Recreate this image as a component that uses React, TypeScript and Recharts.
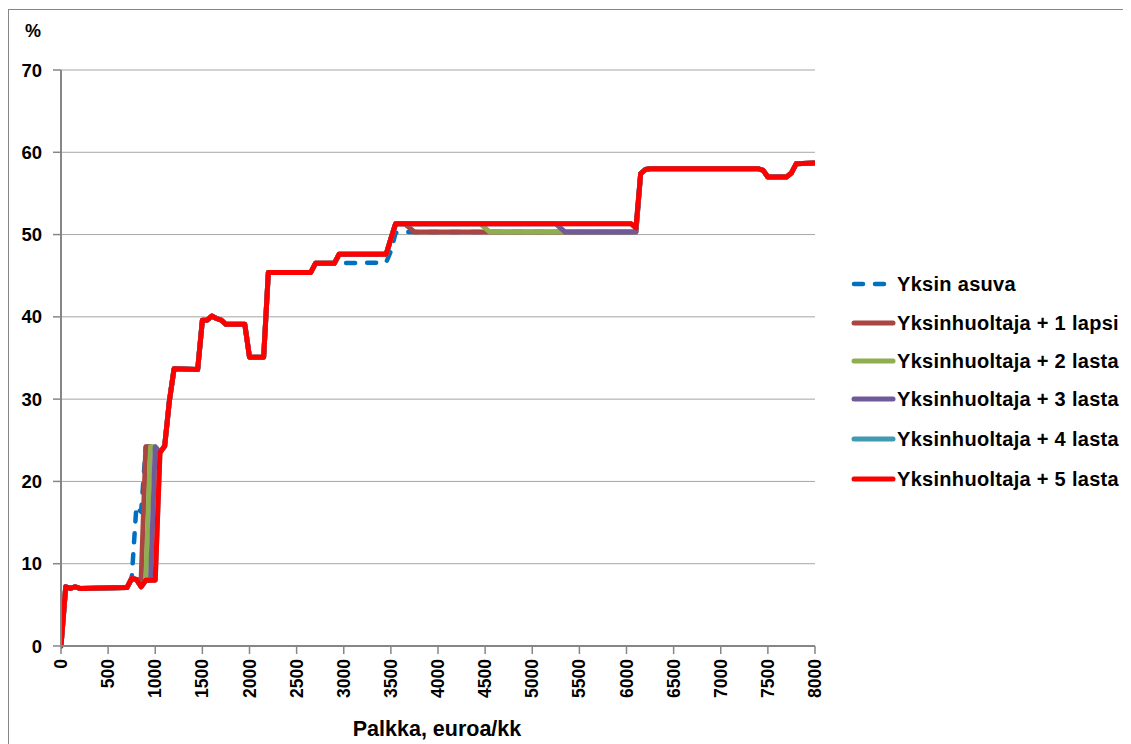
import { LineChart, Line, XAxis, YAxis, CartesianGrid } from 'recharts'

// x = palkka (euroa/kk), y = %
const yksinAsuva = [
  [0, 0], [50, 7.2], [100, 7.0], [150, 7.2], [200, 7.0], [700, 7.1], [750, 8.2],
  [800, 17.0], [850, 16.3], [900, 24.2], [950, 24.2], [1000, 24.0], [1050, 23.5],
  [1100, 24.3], [1150, 29.8], [1200, 33.7], [1450, 33.6], [1500, 39.6], [1550, 39.6],
  [1600, 40.1], [1650, 39.8], [1700, 39.6], [1750, 39.1], [1950, 39.1], [2000, 35.1],
  [2150, 35.1], [2200, 45.4], [2650, 45.4], [2700, 46.5], [3450, 46.6], [3500, 48.0],
  [3550, 50.2], [3600, 50.3], [6100, 50.3], [6150, 57.4], [6200, 57.9], [6250, 58.0],
  [7400, 58.0], [7450, 57.8], [7500, 57.0], [7700, 57.0], [7750, 57.5], [7800, 58.6],
  [8000, 58.7],
]

const lapsi1 = [
  [0, 0], [50, 7.2], [100, 7.0], [150, 7.2], [200, 7.0], [700, 7.1], [750, 8.2],
  [800, 8.1], [850, 8.0], [900, 24.2], [950, 24.2], [1000, 24.0], [1050, 23.5],
  [1100, 24.3], [1150, 29.8], [1200, 33.7], [1450, 33.6], [1500, 39.6], [1550, 39.6],
  [1600, 40.1], [1650, 39.8], [1700, 39.6], [1750, 39.1], [1950, 39.1], [2000, 35.1],
  [2150, 35.1], [2200, 45.4], [2650, 45.4], [2700, 46.5], [2900, 46.5], [2950, 47.6],
  [3450, 47.6], [3500, 49.5], [3550, 51.3], [3650, 51.3], [3750, 50.3], [6100, 50.3],
  [6150, 57.4], [6200, 57.9], [6250, 58.0], [7400, 58.0], [7450, 57.8], [7500, 57.0],
  [7700, 57.0], [7750, 57.5], [7800, 58.6], [8000, 58.7],
]

const lasta2 = [
  [0, 0], [50, 7.2], [100, 7.0], [150, 7.2], [200, 7.0], [700, 7.1], [750, 8.2],
  [800, 8.1], [850, 7.2], [900, 8.0], [950, 24.2], [1000, 24.2], [1050, 23.5],
  [1100, 24.3], [1150, 29.8], [1200, 33.7], [1450, 33.6], [1500, 39.6], [1550, 39.6],
  [1600, 40.1], [1650, 39.8], [1700, 39.6], [1750, 39.1], [1950, 39.1], [2000, 35.1],
  [2150, 35.1], [2200, 45.4], [2650, 45.4], [2700, 46.5], [2900, 46.5], [2950, 47.6],
  [3450, 47.6], [3500, 49.5], [3550, 51.3], [4450, 51.3], [4550, 50.3], [6100, 50.3],
  [6150, 57.4], [6200, 57.9], [6250, 58.0], [7400, 58.0], [7450, 57.8], [7500, 57.0],
  [7700, 57.0], [7750, 57.5], [7800, 58.6], [8000, 58.7],
]

const lasta3 = [
  [0, 0], [50, 7.2], [100, 7.0], [150, 7.2], [200, 7.0], [700, 7.1], [750, 8.2],
  [800, 8.1], [850, 7.2], [900, 8.0], [950, 8.0], [1000, 24.2], [1050, 23.5],
  [1100, 24.3], [1150, 29.8], [1200, 33.7], [1450, 33.6], [1500, 39.6], [1550, 39.6],
  [1600, 40.1], [1650, 39.8], [1700, 39.6], [1750, 39.1], [1950, 39.1], [2000, 35.1],
  [2150, 35.1], [2200, 45.4], [2650, 45.4], [2700, 46.5], [2900, 46.5], [2950, 47.6],
  [3450, 47.6], [3500, 49.5], [3550, 51.3], [5250, 51.3], [5350, 50.3], [6100, 50.3],
  [6150, 57.4], [6200, 57.9], [6250, 58.0], [7400, 58.0], [7450, 57.8], [7500, 57.0],
  [7700, 57.0], [7750, 57.5], [7800, 58.6], [8000, 58.7],
]

const lasta4 = [
  [0, 0], [50, 7.2], [100, 7.0], [150, 7.2], [200, 7.0], [700, 7.1], [750, 8.2],
  [800, 8.1], [850, 7.2], [900, 8.0], [1000, 8.0], [1050, 23.5],
  [1100, 24.3], [1150, 29.8], [1200, 33.7], [1450, 33.6], [1500, 39.6], [1550, 39.6],
  [1600, 40.1], [1650, 39.8], [1700, 39.6], [1750, 39.1], [1950, 39.1], [2000, 35.1],
  [2150, 35.1], [2200, 45.4], [2650, 45.4], [2700, 46.5], [2900, 46.5], [2950, 47.6],
  [3450, 47.6], [3500, 49.5], [3550, 51.3], [6050, 51.3], [6100, 50.8],
  [6150, 57.4], [6200, 57.9], [6250, 58.0], [7400, 58.0], [7450, 57.8], [7500, 57.0],
  [7700, 57.0], [7750, 57.5], [7800, 58.6], [8000, 58.7],
]

const lasta5 = [
  [0, 0], [50, 7.2], [100, 7.0], [150, 7.2], [200, 7.0], [700, 7.1], [750, 8.2],
  [800, 8.1], [850, 7.2], [900, 8.0], [1000, 8.0], [1050, 23.5],
  [1100, 24.3], [1150, 29.8], [1200, 33.7], [1450, 33.6], [1500, 39.6], [1550, 39.6],
  [1600, 40.1], [1650, 39.8], [1700, 39.6], [1750, 39.1], [1950, 39.1], [2000, 35.1],
  [2150, 35.1], [2200, 45.4], [2650, 45.4], [2700, 46.5], [2900, 46.5], [2950, 47.6],
  [3450, 47.6], [3500, 49.5], [3550, 51.3], [6050, 51.3], [6100, 50.8],
  [6150, 57.4], [6200, 57.9], [6250, 58.0], [7400, 58.0], [7450, 57.8], [7500, 57.0],
  [7700, 57.0], [7750, 57.5], [7800, 58.6], [8000, 58.7],
]

const xTicks = [0, 500, 1000, 1500, 2000, 2500, 3000, 3500, 4000, 4500, 5000, 5500, 6000, 6500, 7000, 7500, 8000]
const yTicks = [0, 10, 20, 30, 40, 50, 60, 70]

const SERIES = [
  { name: 'Yksin asuva', points: yksinAsuva, color: '#0070C0', dash: '9 12' },
  { name: 'Yksinhuoltaja + 1 lapsi', points: lapsi1, color: '#AA4541' },
  { name: 'Yksinhuoltaja + 2 lasta', points: lasta2, color: '#8FAE4F' },
  { name: 'Yksinhuoltaja + 3 lasta', points: lasta3, color: '#705A99' },
  { name: 'Yksinhuoltaja + 4 lasta', points: lasta4, color: '#4199B2' },
  { name: 'Yksinhuoltaja + 5 lasta', points: lasta5, color: '#FF0000' },
]

const FONT = '"Liberation Sans", Arial, sans-serif'
const AXIS_GRAY = '#868686'

const toRows = (pts: number[][]) => pts.map(([x, y]) => ({ x, y }))

const XTick = ({ x, y, payload }: any) => (
  <text
    x={x}
    y={y}
    transform={`rotate(-90, ${x}, ${y})`}
    textAnchor="end"
    dominantBaseline="central"
    fontFamily={FONT}
    fontWeight="bold"
    fontSize={17.5}
    fill="#000"
  >
    {payload.value}
  </text>
)

function ChartLegend() {
  const rows = [283, 322, 360, 398, 438, 478]
  return (
    <div style={{ position: 'absolute', left: 842, top: 0 }}>
      {SERIES.map((s, i) => (
        <div
          key={s.name}
          style={{
            position: 'absolute',
            top: rows[i] - 9 - 13,
            left: 0,
            display: 'flex',
            alignItems: 'center',
            whiteSpace: 'nowrap',
            height: 26,
          }}
        >
          <svg width={46} height={10}>
            <line
              x1={3}
              y1={5}
              x2={42}
              y2={5}
              stroke={s.color}
              strokeWidth={s.dash ? 4.5 : 5}
              strokeDasharray={s.dash ? '9 12' : undefined}
              strokeLinecap="round"
            />
          </svg>
          <span
            style={{
              fontFamily: FONT,
              fontWeight: 'bold',
              fontSize: 20,
              letterSpacing: 0.3,
              color: '#000',
            }}
          >
            {s.name}
          </span>
        </div>
      ))}
    </div>
  )
}

export default function App() {
  return (
    <div
      style={{
        position: 'relative',
        width: 1121,
        height: 735,
        border: `1px solid ${AXIS_GRAY}`,
        background: '#fff',
        marginTop: 1,
      }}
    >
      <LineChart width={1121} height={735} margin={{ top: 60, right: 315, left: 0, bottom: 0 }}>
        <CartesianGrid horizontal vertical={false} stroke="#A6A6A6" strokeWidth={1} />
        <XAxis
          type="number"
          dataKey="x"
          domain={[0, 8000]}
          ticks={xTicks}
          interval={0}
          height={99}
          tickSize={8}
          tickMargin={5}
          tick={<XTick />}
          axisLine={{ stroke: AXIS_GRAY, strokeWidth: 2 }}
          tickLine={{ stroke: AXIS_GRAY, strokeWidth: 1.5 }}
          allowDataOverflow
        />
        <YAxis
          type="number"
          dataKey="y"
          domain={[0, 70]}
          ticks={yTicks}
          width={52}
          tickSize={8}
          tickMargin={11}
          tick={{ fontFamily: FONT, fontWeight: 'bold', fontSize: 18.5, fill: '#000' }}
          axisLine={{ stroke: AXIS_GRAY, strokeWidth: 2 }}
          tickLine={{ stroke: AXIS_GRAY, strokeWidth: 1.5 }}
        />
        {SERIES.map((s) => (
          <Line
            key={s.name}
            data={toRows(s.points)}
            dataKey="y"
            name={s.name}
            type="linear"
            stroke={s.color}
            strokeWidth={s.dash ? 4.5 : 5}
            strokeDasharray={s.dash}
            strokeLinecap="round"
            strokeLinejoin="round"
            dot={false}
            activeDot={false}
            isAnimationActive={false}
          />
        ))}
      </LineChart>
      <div
        style={{
          position: 'absolute',
          left: 16,
          top: 11,
          fontFamily: FONT,
          fontWeight: 'bold',
          fontSize: 18,
        }}
      >
        %
      </div>
      <div
        style={{
          position: 'absolute',
          left: 428,
          top: 707,
          transform: 'translateX(-50%)',
          fontFamily: FONT,
          fontWeight: 'bold',
          fontSize: 21.5,
          whiteSpace: 'nowrap',
        }}
      >
        Palkka, euroa/kk
      </div>
      <ChartLegend />
    </div>
  )
}
